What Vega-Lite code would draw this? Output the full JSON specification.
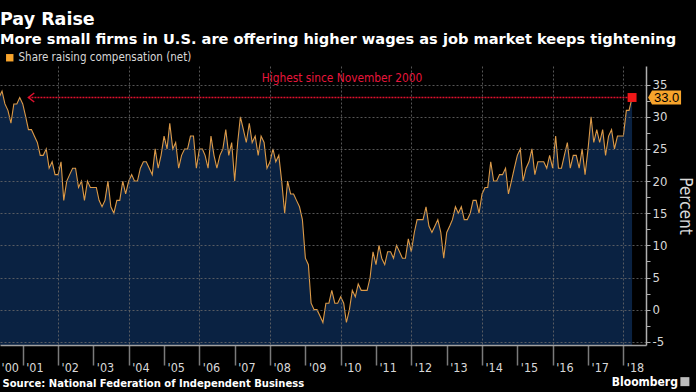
{
  "$schema": "https://vega.github.io/schema/vega-lite/v6.json",
  "width": 646,
  "height": 279,
  "autosize": {"type": "none"},
  "padding": {"top": 66, "left": 0, "right": 50, "bottom": 47},
  "background": "#000000",
  "config": {"view": {"stroke": null}},
  "title": {
    "text": "Pay Raise",
    "subtitle": "More small firms in U.S. are offering higher wages as job market keeps tightening",
    "anchor": "start",
    "frame": "group",
    "font": "DejaVu Sans",
    "fontSize": 17.5,
    "fontWeight": "bold",
    "color": "#ffffff",
    "subtitleFont": "DejaVu Sans",
    "subtitleFontSize": 14.6,
    "subtitleFontWeight": "bold",
    "subtitleColor": "#ffffff",
    "subtitlePadding": 4,
    "offset": 5
  },
  "datasets": {
    "series": [
      {"d":"2000-05-01","v":33},{"d":"2000-06-01","v":34},{"d":"2000-07-01","v":32},{"d":"2000-08-01","v":31},{"d":"2000-09-01","v":29},{"d":"2000-10-01","v":32},{"d":"2000-11-01","v":32},{"d":"2000-12-01","v":33},
      {"d":"2001-01-01","v":32},{"d":"2001-02-01","v":30},{"d":"2001-03-01","v":28},{"d":"2001-04-01","v":28},{"d":"2001-05-01","v":27},{"d":"2001-06-01","v":26},{"d":"2001-07-01","v":24},{"d":"2001-08-01","v":24},{"d":"2001-09-01","v":25},{"d":"2001-10-01","v":22},{"d":"2001-11-01","v":23},{"d":"2001-12-01","v":21},
      {"d":"2002-01-01","v":21},{"d":"2002-02-01","v":23},{"d":"2002-03-01","v":17},{"d":"2002-04-01","v":20},{"d":"2002-05-01","v":21},{"d":"2002-06-01","v":22},{"d":"2002-07-01","v":22},{"d":"2002-08-01","v":19},{"d":"2002-09-01","v":20},{"d":"2002-10-01","v":17},{"d":"2002-11-01","v":20},{"d":"2002-12-01","v":19},
      {"d":"2003-01-01","v":19},{"d":"2003-02-01","v":19},{"d":"2003-03-01","v":17},{"d":"2003-04-01","v":16},{"d":"2003-05-01","v":17},{"d":"2003-06-01","v":20},{"d":"2003-07-01","v":16},{"d":"2003-08-01","v":15},{"d":"2003-09-01","v":17},{"d":"2003-10-01","v":17},{"d":"2003-11-01","v":20},{"d":"2003-12-01","v":18},
      {"d":"2004-01-01","v":20},{"d":"2004-02-01","v":21},{"d":"2004-03-01","v":20},{"d":"2004-04-01","v":20},{"d":"2004-05-01","v":22},{"d":"2004-06-01","v":23},{"d":"2004-07-01","v":23},{"d":"2004-08-01","v":22},{"d":"2004-09-01","v":21},{"d":"2004-10-01","v":25},{"d":"2004-11-01","v":22},{"d":"2004-12-01","v":24},
      {"d":"2005-01-01","v":27},{"d":"2005-02-01","v":25},{"d":"2005-03-01","v":29},{"d":"2005-04-01","v":25},{"d":"2005-05-01","v":26},{"d":"2005-06-01","v":22},{"d":"2005-07-01","v":24},{"d":"2005-08-01","v":25},{"d":"2005-09-01","v":25},{"d":"2005-10-01","v":27},{"d":"2005-11-01","v":27},{"d":"2005-12-01","v":22},
      {"d":"2006-01-01","v":25},{"d":"2006-02-01","v":25},{"d":"2006-03-01","v":24},{"d":"2006-04-01","v":22},{"d":"2006-05-01","v":27},{"d":"2006-06-01","v":24},{"d":"2006-07-01","v":22},{"d":"2006-08-01","v":24},{"d":"2006-09-01","v":25},{"d":"2006-10-01","v":28},{"d":"2006-11-01","v":24},{"d":"2006-12-01","v":26},
      {"d":"2007-01-01","v":20},{"d":"2007-02-01","v":26},{"d":"2007-03-01","v":30},{"d":"2007-04-01","v":28},{"d":"2007-05-01","v":26},{"d":"2007-06-01","v":29},{"d":"2007-07-01","v":26},{"d":"2007-08-01","v":27},{"d":"2007-09-01","v":24},{"d":"2007-10-01","v":27},{"d":"2007-11-01","v":26},{"d":"2007-12-01","v":22},
      {"d":"2008-01-01","v":23},{"d":"2008-02-01","v":25},{"d":"2008-03-01","v":23},{"d":"2008-04-01","v":24},{"d":"2008-05-01","v":20},{"d":"2008-06-01","v":15},{"d":"2008-07-01","v":20},{"d":"2008-08-01","v":18},{"d":"2008-09-01","v":18},{"d":"2008-10-01","v":17},{"d":"2008-11-01","v":16},{"d":"2008-12-01","v":14},
      {"d":"2009-01-01","v":8},{"d":"2009-02-01","v":7},{"d":"2009-03-01","v":1},{"d":"2009-04-01","v":0},{"d":"2009-05-01","v":0},{"d":"2009-06-01","v":-1},{"d":"2009-07-01","v":-2},{"d":"2009-08-01","v":1},{"d":"2009-09-01","v":1},{"d":"2009-10-01","v":3},{"d":"2009-11-01","v":1},{"d":"2009-12-01","v":1},
      {"d":"2010-01-01","v":2},{"d":"2010-02-01","v":1},{"d":"2010-03-01","v":-2},{"d":"2010-04-01","v":0},{"d":"2010-05-01","v":3},{"d":"2010-06-01","v":2},{"d":"2010-07-01","v":4},{"d":"2010-08-01","v":3},{"d":"2010-09-01","v":3},{"d":"2010-10-01","v":3},{"d":"2010-11-01","v":5},{"d":"2010-12-01","v":9},
      {"d":"2011-01-01","v":7},{"d":"2011-02-01","v":10},{"d":"2011-03-01","v":8},{"d":"2011-04-01","v":7},{"d":"2011-05-01","v":9},{"d":"2011-06-01","v":9},{"d":"2011-07-01","v":8},{"d":"2011-08-01","v":10},{"d":"2011-09-01","v":9},{"d":"2011-10-01","v":8},{"d":"2011-11-01","v":8},{"d":"2011-12-01","v":11},
      {"d":"2012-01-01","v":9},{"d":"2012-02-01","v":12},{"d":"2012-03-01","v":14},{"d":"2012-04-01","v":14},{"d":"2012-05-01","v":14},{"d":"2012-06-01","v":16},{"d":"2012-07-01","v":13},{"d":"2012-08-01","v":12},{"d":"2012-09-01","v":13},{"d":"2012-10-01","v":14},{"d":"2012-11-01","v":12},{"d":"2012-12-01","v":8},
      {"d":"2013-01-01","v":12},{"d":"2013-02-01","v":13},{"d":"2013-03-01","v":14},{"d":"2013-04-01","v":16},{"d":"2013-05-01","v":15},{"d":"2013-06-01","v":16},{"d":"2013-07-01","v":14},{"d":"2013-08-01","v":14},{"d":"2013-09-01","v":15},{"d":"2013-10-01","v":17},{"d":"2013-11-01","v":17},{"d":"2013-12-01","v":15},
      {"d":"2014-01-01","v":18},{"d":"2014-02-01","v":19},{"d":"2014-03-01","v":19},{"d":"2014-04-01","v":23},{"d":"2014-05-01","v":20},{"d":"2014-06-01","v":20},{"d":"2014-07-01","v":21},{"d":"2014-08-01","v":21},{"d":"2014-09-01","v":22},{"d":"2014-10-01","v":18},{"d":"2014-11-01","v":20},{"d":"2014-12-01","v":22},
      {"d":"2015-01-01","v":24},{"d":"2015-02-01","v":25},{"d":"2015-03-01","v":20},{"d":"2015-04-01","v":22},{"d":"2015-05-01","v":23},{"d":"2015-06-01","v":25},{"d":"2015-07-01","v":21},{"d":"2015-08-01","v":23},{"d":"2015-09-01","v":23},{"d":"2015-10-01","v":23},{"d":"2015-11-01","v":22},{"d":"2015-12-01","v":24},
      {"d":"2016-01-01","v":22},{"d":"2016-02-01","v":27},{"d":"2016-03-01","v":22},{"d":"2016-04-01","v":22},{"d":"2016-05-01","v":24},{"d":"2016-06-01","v":26},{"d":"2016-07-01","v":22},{"d":"2016-08-01","v":24},{"d":"2016-09-01","v":24},{"d":"2016-10-01","v":22},{"d":"2016-11-01","v":25},{"d":"2016-12-01","v":21},
      {"d":"2017-01-01","v":25},{"d":"2017-02-01","v":30},{"d":"2017-03-01","v":26},{"d":"2017-04-01","v":28},{"d":"2017-05-01","v":26},{"d":"2017-06-01","v":28},{"d":"2017-07-01","v":24},{"d":"2017-08-01","v":27},{"d":"2017-09-01","v":28},{"d":"2017-10-01","v":25},{"d":"2017-11-01","v":27},{"d":"2017-12-01","v":27},
      {"d":"2018-01-01","v":27},{"d":"2018-02-01","v":31},{"d":"2018-03-01","v":31},{"d":"2018-04-01","v":33}
    ],
    "highline": [
      {"d":"2001-03-01","d2":"2018-04-01","v":33}
    ],
    "note": [
      {"d":"2010-01-15","v":36.1,"label":"Highest since November 2000"}
    ],
    "footer": [
      {"d":"2019-07-19","v":-11.9,"label":"Bloomberg"}
    ],
    "logo": [
      {"d":"2019-09-29","v":-11.2}
    ]
  },
  "data": {"name": "series"},
  "encoding": {
    "x": {
      "field": "d",
      "type": "temporal",
      "scale": {"domain": [{"year": 2000, "month": 5, "date": 11}, {"year": 2018, "month": 8, "date": 23}], "nice": false},
      "axis": {
        "title": "Source: National Federation of Independent Business",
        "titleFont": "DejaVu Sans",
        "titleFontWeight": "bold",
        "titleFontSize": 10,
        "titleColor": "#ffffff",
        "titleAnchor": "start",
        "titleAlign": "left",
        "titleBaseline": "alphabetic",
        "titleX": 2,
        "titleY": 41,
        "values": [
          {"year": 2000, "month": 5, "date": 12},
          {"year": 2001, "month": 1, "date": 1}, {"year": 2002, "month": 1, "date": 1}, {"year": 2003, "month": 1, "date": 1},
          {"year": 2004, "month": 1, "date": 1}, {"year": 2005, "month": 1, "date": 1}, {"year": 2006, "month": 1, "date": 1},
          {"year": 2007, "month": 1, "date": 1}, {"year": 2008, "month": 1, "date": 1}, {"year": 2009, "month": 1, "date": 1},
          {"year": 2010, "month": 1, "date": 1}, {"year": 2011, "month": 1, "date": 1}, {"year": 2012, "month": 1, "date": 1},
          {"year": 2013, "month": 1, "date": 1}, {"year": 2014, "month": 1, "date": 1}, {"year": 2015, "month": 1, "date": 1},
          {"year": 2016, "month": 1, "date": 1}, {"year": 2017, "month": 1, "date": 1}, {"year": 2018, "month": 1, "date": 1}
        ],
        "labelExpr": "\"'\" + timeFormat(datum.value, '%y')",
        "labelAlign": "left",
        "labelBaseline": "middle",
        "labelOffset": {"condition": {"test": "month(datum.value) == 0", "value": 3}, "value": 1},
        "labelPadding": 2,
        "labelFlush": false,
        "labelOverlap": false,
        "labelBound": false,
        "labelFont": "DejaVu Sans Condensed, Liberation Sans, sans-serif",
        "labelFontSize": 12.5,
        "labelColor": "#d8d8d8",
        "domainColor": "#a0a0a0",
        "domainWidth": 1.5,
        "tickSize": 20,
        "tickColor": "#7a7a7a",
        "tickWidth": 1.5,
        "tickOpacity": {"condition": {"test": "month(datum.value) == 0", "value": 1}, "value": 0},
        "grid": true,
        "gridColor": "#6a6a6a",
        "gridDash": [2, 2],
        "gridWidth": 1,
        "gridOpacity": {"condition": {"test": "month(datum.value) == 0 && year(datum.value) % 2 == 0", "value": 0.8}, "value": 0},
        "zindex": 1
      }
    },
    "y": {
      "field": "v",
      "type": "quantitative",
      "scale": {"domain": [-5.5, 37.9], "nice": false, "zero": false},
      "axis": {
        "orient": "right",
        "title": "Percent",
        "titleFont": "DejaVu Sans Condensed, Liberation Sans, sans-serif",
        "titleFontSize": 17,
        "titleFontWeight": "normal",
        "titleColor": "#d8d8d8",
        "titlePadding": 9,
        "values": [-5, -2.5, 0, 2.5, 5, 7.5, 10, 12.5, 15, 17.5, 20, 22.5, 25, 27.5, 30, 32.5, 35],
        "labelExpr": "datum.value % 5 == 0 ? '' + datum.value : ''",
        "labelFont": "DejaVu Sans Condensed, Liberation Sans, sans-serif",
        "labelFontSize": 13,
        "labelColor": "#d8d8d8",
        "labelPadding": 2,
        "labelOverlap": false,
        "labelBound": false,
        "labelFlush": false,
        "domainColor": "#b0b0b0",
        "domainWidth": 1.5,
        "tickSize": 4,
        "tickColor": "#b0b0b0",
        "grid": true,
        "gridColor": "#6a6a6a",
        "gridDash": [2, 2],
        "gridOpacity": {"condition": {"test": "datum.value % 5 == 0", "value": 0.8}, "value": 0},
        "zindex": 1
      }
    }
  },
  "layer": [
    {
      "mark": {"type": "area", "color": "#0a2242", "interpolate": "linear"},
      "encoding": {"y2": {"datum": -5.5, "type": "quantitative"}}
    },
    {
      "mark": {"type": "line", "strokeWidth": 1.1, "interpolate": "linear"},
      "encoding": {
        "color": {
          "datum": "Share raising compensation (net)",
          "scale": {"range": ["#dc9a48"]},
          "legend": {
            "title": null,
            "orient": "none",
            "legendX": 4,
            "legendY": -14,
            "symbolType": "square",
            "symbolSize": 55,
            "labelFont": "DejaVu Sans Condensed, Liberation Sans, sans-serif",
            "labelFontSize": 11.5,
            "labelColor": "#d8d8d8",
            "labelOffset": 3,
            "labelLimit": 0,
            "encode": {"symbols": {"update": {"fill": {"value": "#f7a42c"}, "stroke": {"value": "#f7a42c"}, "strokeWidth": {"value": 0}}}}
          }
        }
      }
    },
    {
      "data": {"name": "highline"},
      "mark": {"type": "rule", "color": "#e0102e", "strokeWidth": 1.5, "strokeDash": [2, 1]},
      "encoding": {
        "x": {"field": "d", "type": "temporal"},
        "x2": {"field": "d2"},
        "y": {"field": "v", "type": "quantitative"}
      }
    },
    {
      "data": {"name": "highline"},
      "mark": {"type": "point", "shape": "M 1.3 -1 L 0 0 L 1.3 1", "filled": false, "color": "#e0102e", "strokeWidth": 1.5, "size": 80, "opacity": 1},
      "encoding": {
        "x": {"field": "d", "type": "temporal"},
        "y": {"field": "v", "type": "quantitative"}
      }
    },
    {
      "data": {"name": "note"},
      "mark": {"type": "text", "color": "#e8163c", "font": "DejaVu Sans Condensed, Liberation Sans, sans-serif", "fontSize": 11.8, "align": "center", "baseline": "middle"},
      "encoding": {
        "x": {"field": "d", "type": "temporal"},
        "y": {"field": "v", "type": "quantitative"},
        "text": {"field": "label"}
      }
    },
    {
      "transform": [{"filter": "year(datum.d) == 2018 && datum.v == 33"}],
      "mark": {"type": "point", "shape": "square", "filled": true, "color": "#f01818", "size": 80, "opacity": 1}
    },
    {
      "transform": [{"filter": "year(datum.d) == 2018 && datum.v == 33"}],
      "mark": {"type": "point", "shape": "M 0.32 0 L 0.40 -0.14 L 0.98 -0.14 L 0.98 0.14 L 0.40 0.14 Z", "filled": true, "color": "#f7a42c", "size": 10000, "opacity": 1}
    },
    {
      "transform": [{"filter": "year(datum.d) == 2018 && datum.v == 33"}],
      "mark": {"type": "text", "color": "#000000", "font": "Liberation Sans", "fontSize": 13, "align": "center", "baseline": "middle", "dx": 34.5, "dy": 0.5},
      "encoding": {"text": {"field": "v", "format": ".1f"}}
    },
    {
      "data": {"name": "footer"},
      "mark": {"type": "text", "color": "#ffffff", "font": "DejaVu Sans Condensed, Liberation Sans, sans-serif", "fontWeight": "bold", "fontSize": 12, "align": "right", "baseline": "alphabetic"},
      "encoding": {
        "x": {"field": "d", "type": "temporal"},
        "y": {"field": "v", "type": "quantitative"},
        "text": {"field": "label"}
      }
    },
    {
      "data": {"name": "logo"},
      "mark": {"type": "point", "shape": "square", "filled": true, "color": "#bdbdbd", "size": 81, "opacity": 1},
      "encoding": {
        "x": {"field": "d", "type": "temporal"},
        "y": {"field": "v", "type": "quantitative"}
      }
    }
  ]
}
